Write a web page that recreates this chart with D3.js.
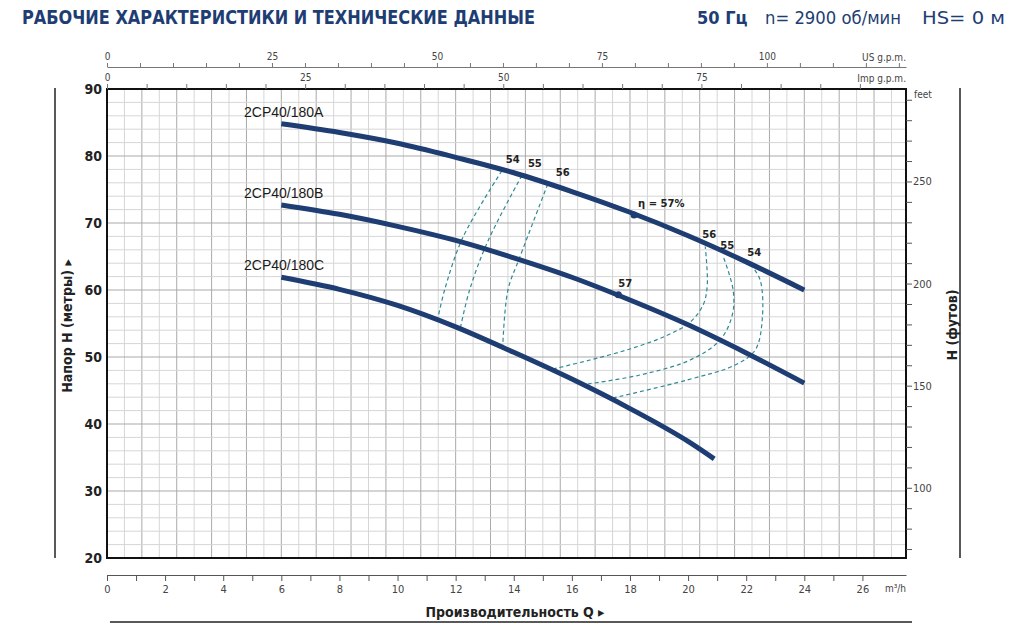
<!DOCTYPE html>
<html>
<head>
<meta charset="utf-8">
<script src="https://cdn.jsdelivr.net/npm/d3@7"></script>
<style>
  body { margin: 0; background: #fff; }
  svg { display: block; font-family: "Liberation Sans Narrow", "DejaVu Sans Condensed", Arial, sans-serif; }
</style>
</head>
<body>
<div id="chart"></div>
<script>
// --- data (Q in m3/h, H in m) ---
const flowAB = [6, 8, 10, 12, 14, 16, 18, 20, 22, 24];
const headA = [84.8, 83.5, 81.9, 79.8, 77.5, 74.7, 71.6, 68.1, 64.2, 60.0];
const headB = [72.7, 71.3, 69.5, 67.4, 64.8, 61.9, 58.5, 54.8, 50.6, 46.1];
const flowC = [6, 8, 10, 12, 14, 16, 18, 20, 20.9];
const headC = [61.9, 60.1, 57.7, 54.5, 50.7, 46.7, 42.3, 37.4, 34.8];
const curveNames = ["2CP40/180A", "2CP40/180B", "2CP40/180C"];

// iso-efficiency lines, left branch (A -> C) and right branch (C -> A)
const eff54Left = [[13.59, 77.8], [12.24, 67.76], [11.62, 60.0], [11.38, 55.6]];
const eff55Left = [[14.28, 77.1], [13.1, 67.2], [12.48, 60.0], [12.17, 54.5]];
const eff56Left = [[15.17, 75.8], [14.2, 64.8], [13.8, 60.0], [13.62, 51.6]];
const eff54Right = [[17.41, 43.88], [19.97, 46.57], [21.62, 48.81], [22.31, 51.04], [22.55, 55.52], [22.48, 61.49], [22.14, 63.9]];
const eff55Right = [[16.55, 45.97], [18.34, 47.31], [20.07, 49.55], [21.1, 52.54], [21.52, 56.27], [21.55, 60.0], [21.21, 65.0]];
const eff56Right = [[15.34, 48.2], [16.62, 49.55], [18.0, 51.2], [19.21, 53.1], [20.07, 55.2], [20.52, 57.8], [20.66, 60.75], [20.59, 66.5]];
const effLevels = ["54", "55", "56"];
const bestPoints = [[18.14, 71.2, "η = 57%"], [17.6, 59.3, "57"]];

const qTicks = d3.range(0, 27, 1);
const usTicks = d3.range(0, 121, 5);
const impTicks = d3.range(0, 96, 5);
const ftTicks = d3.range(70, 291, 10);

const width = 1024, height = 631;
const navy = "#1e3d73";

const svg = d3.select("#chart").append("svg")
  .attr("width", width)
  .attr("height", height);

const x = d3.scaleLinear().domain([0, 27.5]).range([107, 906]);
const y = d3.scaleLinear().domain([20, 90]).range([558, 89]);
const xUS = d3.scaleLinear().domain([0, 27.5 / 0.227125]).range([107, 906]);
const xImp = d3.scaleLinear().domain([0, 27.5 / 0.272765]).range([107, 906]);
const yFt = d3.scaleLinear().domain([20 / 0.3048, 90 / 0.3048]).range([558, 89]);

// title
const title = svg.append("g").attr("fill", navy);
title.append("text").attr("x", 22).attr("y", 24)
  .attr("font-size", 19).attr("font-weight", "bold")
  .attr("textLength", 513).attr("lengthAdjust", "spacingAndGlyphs")
  .text("РАБОЧИЕ ХАРАКТЕРИСТИКИ И ТЕХНИЧЕСКИЕ ДАННЫЕ");
title.append("text").attr("x", 697).attr("y", 24)
  .attr("font-size", 18).attr("font-weight", "bold").text("50 Гц");
title.append("text").attr("x", 765).attr("y", 24)
  .attr("font-size", 17).attr("textLength", 136).attr("lengthAdjust", "spacingAndGlyphs")
  .text("n= 2900 об/мин");
title.append("text").attr("x", 922).attr("y", 24)
  .attr("font-size", 17).attr("textLength", 83).attr("lengthAdjust", "spacingAndGlyphs")
  .text("HS= 0 м");

// grid
const grid = svg.append("g");
const vLines = d3.range(0.6, 27.5, 0.6);
grid.selectAll(".v").data(vLines).enter().append("line")
  .attr("x1", d => x(d)).attr("x2", d => x(d))
  .attr("y1", y(90)).attr("y2", y(20))
  .attr("stroke", (d, i) => i % 2 === 1 ? "#a9a9a9" : "#d6d6d6")
  .attr("stroke-width", 1);
grid.selectAll(".h").data(d3.range(22, 90, 2)).enter().append("line")
  .attr("x1", x(0)).attr("x2", x(27.5))
  .attr("y1", d => y(d)).attr("y2", d => y(d))
  .attr("stroke", d => d % 10 === 0 ? "#a9a9a9" : "#d6d6d6")
  .attr("stroke-width", 1);

// frame
svg.append("rect")
  .attr("x", x(0)).attr("y", y(90))
  .attr("width", x(27.5) - x(0)).attr("height", y(20) - y(90))
  .attr("fill", "none").attr("stroke", "#111").attr("stroke-width", 2);

// left axis (m)
const yAxis = svg.append("g")
  .attr("transform", `translate(${x(0)},0)`)
  .call(d3.axisLeft(y).tickValues(d3.range(20, 91, 10)).tickSize(0).tickPadding(5));
yAxis.select(".domain").remove();
yAxis.selectAll("text").attr("font-size", 14).attr("font-weight", "bold").attr("fill", "#222")
  .attr("font-family", "'Liberation Sans Narrow', 'DejaVu Sans Condensed', Arial, sans-serif");

// right axis (feet)
const ftAxis = svg.append("g")
  .attr("transform", `translate(${x(27.5)},0)`)
  .call(d3.axisRight(yFt).tickValues(ftTicks).tickSize(6).tickPadding(1)
    .tickFormat(d => d % 50 === 0 ? d : ""));
ftAxis.select(".domain").remove();
ftAxis.selectAll("line").attr("stroke", "#555");
ftAxis.selectAll("text").attr("font-size", 11).attr("fill", "#444")
  .attr("font-family", "'Liberation Sans Narrow', 'DejaVu Sans Condensed', Arial, sans-serif");
svg.append("text").attr("x", 914).attr("y", 98)
  .attr("font-size", 10).attr("fill", "#444").text("feet");

// bottom axis (m3/h)
const xAxis = svg.append("g")
  .attr("transform", "translate(0,575)")
  .call(d3.axisBottom(x).tickValues(qTicks).tickSize(6).tickSizeOuter(0).tickPadding(4)
    .tickFormat(d => d % 2 === 0 ? d : ""));
xAxis.select(".domain").attr("stroke", "#555");
xAxis.selectAll("line").attr("stroke", "#555");
xAxis.selectAll("text").attr("font-size", 11).attr("fill", "#444")
  .attr("font-family", "'Liberation Sans Narrow', 'DejaVu Sans Condensed', Arial, sans-serif");
svg.append("text").attr("x", 906).attr("y", 592).attr("text-anchor", "end")
  .attr("font-size", 10).attr("fill", "#444").text("m³/h");

// top axes (US gpm, Imp gpm)
const usAxis = svg.append("g")
  .attr("transform", "translate(0,67)")
  .call(d3.axisTop(xUS).tickValues(usTicks).tickSize(4).tickSizeOuter(0).tickPadding(3)
    .tickFormat(d => d % 25 === 0 && d <= 100 ? d : ""));
usAxis.select(".domain").attr("stroke", "#777");
usAxis.selectAll("line").attr("stroke", "#777");
usAxis.selectAll("text").attr("font-size", 10).attr("fill", "#444")
  .attr("font-family", "'Liberation Sans Narrow', 'DejaVu Sans Condensed', Arial, sans-serif");
svg.append("text").attr("x", 906).attr("y", 61).attr("text-anchor", "end")
  .attr("font-size", 10).attr("fill", "#444").text("US g.p.m.");

const impAxis = svg.append("g")
  .attr("transform", `translate(0,${y(90)})`)
  .call(d3.axisTop(xImp).tickValues(impTicks).tickSize(5).tickSizeOuter(0).tickPadding(3)
    .tickFormat(d => d % 25 === 0 ? d : ""));
impAxis.select(".domain").remove();
impAxis.selectAll("line").attr("stroke", "#777");
impAxis.selectAll("text").attr("font-size", 10).attr("fill", "#444")
  .attr("font-family", "'Liberation Sans Narrow', 'DejaVu Sans Condensed', Arial, sans-serif");
svg.append("text").attr("x", 906).attr("y", 82).attr("text-anchor", "end")
  .attr("font-size", 10).attr("fill", "#444").text("Imp g.p.m.");

// side lines and axis titles
svg.append("line").attr("x1", 55).attr("x2", 55).attr("y1", 88).attr("y2", 558)
  .attr("stroke", "#222").attr("stroke-width", 1.5);
svg.append("line").attr("x1", 960).attr("x2", 960).attr("y1", 88).attr("y2", 558)
  .attr("stroke", "#222").attr("stroke-width", 1.5);
svg.append("line").attr("x1", 110).attr("x2", 912).attr("y1", 622).attr("y2", 622)
  .attr("stroke", "#222").attr("stroke-width", 1.5);

svg.append("text")
  .attr("transform", "translate(72,326) rotate(-90)")
  .attr("text-anchor", "middle").attr("font-size", 14).attr("font-weight", "bold").attr("fill", "#222")
  .text("Напор H (метры) ▸");
svg.append("text")
  .attr("transform", "translate(957,325) rotate(-90)")
  .attr("text-anchor", "middle").attr("font-size", 14).attr("font-weight", "bold").attr("fill", "#222")
  .text("H (футов)");
svg.append("text").attr("x", 515).attr("y", 617)
  .attr("text-anchor", "middle").attr("font-size", 14).attr("font-weight", "bold").attr("fill", "#222")
  .text("Производительность Q ▸");

// efficiency (dashed) lines
const effLine = d3.line().x(d => x(d[0])).y(d => y(d[1])).curve(d3.curveCatmullRom);
const effGroup = svg.append("g")
  .attr("fill", "none").attr("stroke", "#2f8a94").attr("stroke-width", 1.2)
  .attr("stroke-dasharray", "4,3");
[eff54Left, eff55Left, eff56Left, eff54Right, eff55Right, eff56Right].forEach(pts => {
  effGroup.append("path").attr("d", effLine(pts));
});

// pump curves
const pumpLine = d3.line().x(d => x(d[0])).y(d => y(d[1])).curve(d3.curveMonotoneX);
const curves = [
  flowAB.map((q, i) => [q, headA[i]]),
  flowAB.map((q, i) => [q, headB[i]]),
  flowC.map((q, i) => [q, headC[i]])
];
svg.append("g").selectAll("path").data(curves).enter().append("path")
  .attr("d", pumpLine)
  .attr("fill", "none").attr("stroke", navy).attr("stroke-width", 5)
  .attr("stroke-linecap", "butt");

// curve names
svg.append("g").selectAll("text").data(curves).enter().append("text")
  .attr("x", 244)
  .attr("y", (d, i) => y(d[0][1]) - 7)
  .attr("font-size", 14).attr("fill", "#1a1a1a")
  .attr("font-family", "Arial, 'Liberation Sans', sans-serif")
  .text((d, i) => curveNames[i]);

// efficiency labels
const effLabels = svg.append("g").attr("font-size", 10).attr("font-weight", "bold").attr("fill", "#222")
  .attr("font-family", "'DejaVu Sans', sans-serif");
[eff54Left, eff55Left, eff56Left].forEach((pts, i) => {
  const p = pts[0];
  effLabels.append("text").attr("x", x(p[0]) + 4 + i * 2).attr("y", y(p[1]) - 8).text(effLevels[i]);
});
[eff54Right, eff55Right, eff56Right].forEach((pts, i) => {
  const p = pts[pts.length - 1];
  effLabels.append("text").attr("x", x(p[0]) - 3).attr("y", y(p[1]) - 8).text(effLevels[i]);
});

// best efficiency points
bestPoints.forEach(p => {
  svg.append("circle").attr("cx", x(p[0])).attr("cy", y(p[1])).attr("r", 3.5).attr("fill", navy);
  effLabels.append("text").attr("x", x(p[0]) + (p[2].length > 3 ? 4 : 0)).attr("y", y(p[1]) - 8)
    .attr("font-weight", p[2].length > 3 ? "bold" : "bold")
    .text(p[2]);
});
</script>
</body>
</html>
